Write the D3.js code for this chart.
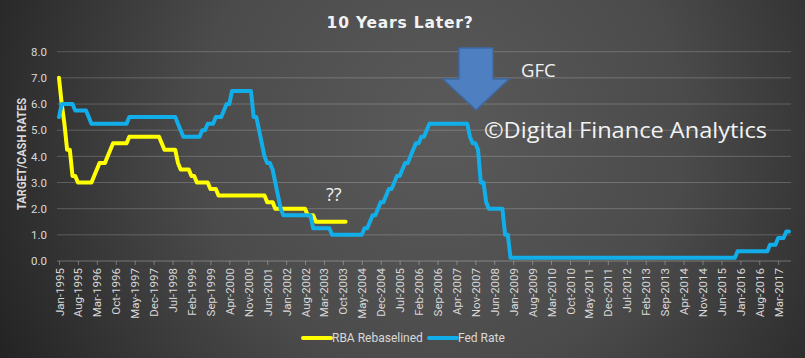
<!DOCTYPE html>
<html>
<head>
<meta charset="utf-8">
<script src="https://cdn.jsdelivr.net/npm/d3@7"></script>
<style>
html,body{margin:0;padding:0;background:#333;}
svg{display:block;}
</style>
</head>
<body>
<svg id="chart" width="805" height="358"></svg>
<script>
// ---------- DATA ----------
const chartTitle = "10 Years Later?";
const yAxisTitle = "TARGET/CASH RATES";
const seriesNames = ["RBA Rebaselined", "Fed Rate"];
const yTicks = [0, 1, 2, 3, 4, 5, 6, 7, 8];

// Monthly categories: Jan-1995 .. Jul-2017
const firstMonth = new Date(1995, 0, 1);
const lastMonth = new Date(2017, 6, 1);

// Category axis labels (every 7th month)
const tickLabels = ["Jan-1995","Aug-1995","Mar-1996","Oct-1996","May-1997","Dec-1997","Jul-1998",
  "Feb-1999","Sep-1999","Apr-2000","Nov-2000","Jun-2001","Jan-2002","Aug-2002","Mar-2003",
  "Oct-2003","May-2004","Dec-2004","Jul-2005","Feb-2006","Sep-2006","Apr-2007","Nov-2007",
  "Jun-2008","Jan-2009","Aug-2009","Mar-2010","Oct-2010","May-2011","Dec-2011","Jul-2012",
  "Feb-2013","Sep-2013","Apr-2014","Nov-2014","Jun-2015","Jan-2016","Aug-2016","Mar-2017"];

// Fed Rate (monthly, Jan-1995 .. Jul-2017)
const fedRate = [
  5.5,6,6,6,6,6,5.75,5.75,5.75,5.75,5.75,5.5,                 // 1995
  5.25,5.25,5.25,5.25,5.25,5.25,5.25,5.25,5.25,5.25,5.25,5.25, // 1996
  5.25,5.25,5.5,5.5,5.5,5.5,5.5,5.5,5.5,5.5,5.5,5.5,           // 1997
  5.5,5.5,5.5,5.5,5.5,5.5,5.5,5.5,5.25,5,4.75,4.75,            // 1998
  4.75,4.75,4.75,4.75,4.75,5,5,5.25,5.25,5.25,5.5,5.5,         // 1999
  5.5,5.75,6,6,6.5,6.5,6.5,6.5,6.5,6.5,6.5,6.5,                // 2000
  5.5,5.5,5,4.5,4,3.75,3.75,3.5,3,2.5,2,1.75,                  // 2001
  1.75,1.75,1.75,1.75,1.75,1.75,1.75,1.75,1.75,1.75,1.25,1.25, // 2002
  1.25,1.25,1.25,1.25,1.25,1,1,1,1,1,1,1,                      // 2003
  1,1,1,1,1,1.25,1.25,1.5,1.75,1.75,2,2.25,                    // 2004
  2.25,2.5,2.75,2.75,3,3.25,3.25,3.5,3.75,3.75,4,4.25,         // 2005
  4.5,4.5,4.75,4.75,5,5.25,5.25,5.25,5.25,5.25,5.25,5.25,      // 2006
  5.25,5.25,5.25,5.25,5.25,5.25,5.25,5.25,4.75,4.5,4.5,4.25,   // 2007
  3,3,2.25,2,2,2,2,2,2,1,1,0.125,                              // 2008
  0.125,0.125,0.125,0.125,0.125,0.125,0.125,0.125,0.125,0.125,0.125,0.125, // 2009
  0.125,0.125,0.125,0.125,0.125,0.125,0.125,0.125,0.125,0.125,0.125,0.125, // 2010
  0.125,0.125,0.125,0.125,0.125,0.125,0.125,0.125,0.125,0.125,0.125,0.125, // 2011
  0.125,0.125,0.125,0.125,0.125,0.125,0.125,0.125,0.125,0.125,0.125,0.125, // 2012
  0.125,0.125,0.125,0.125,0.125,0.125,0.125,0.125,0.125,0.125,0.125,0.125, // 2013
  0.125,0.125,0.125,0.125,0.125,0.125,0.125,0.125,0.125,0.125,0.125,0.125, // 2014
  0.125,0.125,0.125,0.125,0.125,0.125,0.125,0.125,0.125,0.125,0.125,0.375, // 2015
  0.375,0.375,0.375,0.375,0.375,0.375,0.375,0.375,0.375,0.375,0.375,0.625, // 2016
  0.625,0.625,0.875,0.875,0.875,1.125,1.125                    // 2017
];

// RBA cash rate, rebaselined (Sep-2008 .. Jul-2017 plotted from Jan-1995)
const rbaRebaselined = [
  7,6,5.25,4.25,
  4.25,3.25,3.25,3,3,3,3,3,3,3.25,3.5,3.75,
  3.75,3.75,4,4.25,4.5,4.5,4.5,4.5,4.5,4.5,4.75,4.75,
  4.75,4.75,4.75,4.75,4.75,4.75,4.75,4.75,4.75,4.75,4.5,4.25,
  4.25,4.25,4.25,4.25,3.75,3.5,3.5,3.5,3.5,3.25,3.25,3,
  3,3,3,3,2.75,2.75,2.75,2.5,2.5,2.5,2.5,2.5,
  2.5,2.5,2.5,2.5,2.5,2.5,2.5,2.5,2.5,2.5,2.5,2.5,
  2.5,2.25,2.25,2.25,2,2,2,2,2,2,2,2,
  2,2,2,2,1.75,1.75,1.75,1.5,1.5,1.5,1.5,1.5,
  1.5,1.5,1.5,1.5,1.5,1.5,1.5
];

// Annotations
const annoGFC = "GFC";
const annoCopyright = "©Digital Finance Analytics";
const annoQuestion = "??";

// ---------- CHART ----------
const W = 805, H = 358;
const svg = d3.select("#chart");
const defs = svg.append("defs");

const grad = defs.append("radialGradient").attr("id","bg")
  .attr("gradientUnits","userSpaceOnUse")
  .attr("cx", 440).attr("cy", 130).attr("r", 540);
grad.append("stop").attr("offset","0%").attr("stop-color","#5a5a5a");
grad.append("stop").attr("offset","45%").attr("stop-color","#4b4b4b");
grad.append("stop").attr("offset","100%").attr("stop-color","#1c1c1c");
svg.append("rect").attr("width",W).attr("height",H).attr("fill","url(#bg)");

const months = d3.timeMonth.range(firstMonth, d3.timeMonth.offset(lastMonth, 1));
const fmt = d3.timeFormat("%b-%Y");
const labelSet = new Set(tickLabels);
const tickIdx = months.map((m,i)=>i).filter(i => labelSet.has(fmt(months[i])));

const plot = {left: 57, right: 791, top: 51.7, bottom: 261};
const x = d3.scaleLinear().domain([0, months.length - 1]).range([59, 789]);
const y = d3.scaleLinear().domain([0, 8]).range([plot.bottom, plot.top]);

// gridlines
svg.append("g").selectAll("line").data(yTicks.filter(t=>t>0)).join("line")
  .attr("x1", plot.left).attr("x2", plot.right)
  .attr("y1", d=>y(d)).attr("y2", d=>y(d))
  .attr("stroke", "rgba(255,255,255,0.2)").attr("stroke-width", 1);

// y axis labels
const yAxis = d3.axisLeft(y).tickValues(yTicks).tickFormat(d3.format(".1f")).tickSize(0).tickPadding(0);
const gy = svg.append("g").attr("transform", `translate(47,0)`).call(yAxis);
gy.select(".domain").remove();
gy.selectAll("text").attr("fill","#d9d9d9").attr("font-family","Roboto, sans-serif").attr("font-size","11.5px");

// x axis
const xAxis = d3.axisBottom(x).tickValues(tickIdx).tickFormat(i => fmt(months[i])).tickSize(4).tickSizeOuter(0);
const gx = svg.append("g").attr("transform", `translate(0,${plot.bottom})`).call(xAxis);
gx.select(".domain").attr("d", `M${plot.left},0H${plot.right}`).attr("stroke","rgba(255,255,255,0.3)");
gx.selectAll(".tick line").attr("stroke","rgba(255,255,255,0.3)");
gx.selectAll(".tick text")
  .attr("transform","rotate(-90)")
  .attr("x", -7).attr("y", 0).attr("dy","0.35em")
  .attr("text-anchor","end")
  .attr("fill","#d9d9d9")
  .attr("font-family","Roboto, sans-serif").attr("font-size","11.5px");

// y axis title
svg.append("text")
  .attr("transform", `translate(26,154) rotate(-90)`)
  .attr("text-anchor","middle")
  .attr("fill","#d9d9d9").attr("font-weight","bold")
  .attr("font-family","Roboto, sans-serif").attr("font-size","12.5px")
  .attr("textLength", 112).attr("lengthAdjust","spacingAndGlyphs")
  .text(yAxisTitle);

// title
svg.append("text")
  .attr("x", 400).attr("y", 28).attr("text-anchor","middle")
  .attr("fill","#f2f2f2").attr("font-weight","bold")
  .attr("font-family","'DejaVu Sans', sans-serif").attr("font-size","15.5px")
  .attr("letter-spacing","0.8px")
  .text(chartTitle);

// lines
const line = d3.line().x((d,i)=>x(i)).y(d=>y(d)).curve(d3.curveLinear);
const colors = ["#ffff00", "#12aee9"];

svg.append("path").datum(rbaRebaselined).attr("d", line)
  .attr("fill","none").attr("stroke", colors[0]).attr("stroke-width", 4)
  .attr("stroke-linejoin","round").attr("stroke-linecap","round");
svg.append("path").datum(fedRate).attr("d", line)
  .attr("fill","none").attr("stroke", colors[1]).attr("stroke-width", 4)
  .attr("stroke-linejoin","round").attr("stroke-linecap","round");

// arrow annotation
const arrowPts = [[459,48],[493,48],[493,79],[509,79],[476,110],[443,79],[459,79]];
svg.append("polygon").attr("points", arrowPts.map(p=>p.join(",")).join(" "))
  .attr("fill","#4d7fc1").attr("stroke","#3d6aa6").attr("stroke-width",1.5);

svg.append("text").attr("x", 521).attr("y", 77)
  .attr("fill","#f2f2f2").attr("font-family","'Open Sans', sans-serif").attr("font-size","18.5px")
  .text(annoGFC);
svg.append("text").attr("x", 484).attr("y", 137.5)
  .attr("fill","#f2f2f2").attr("font-family","'Open Sans', sans-serif").attr("font-size","22px")
  .attr("textLength", 283).attr("lengthAdjust","spacingAndGlyphs")
  .text(annoCopyright);
svg.append("text").attr("x", 326).attr("y", 200.5)
  .attr("fill","#f2f2f2").attr("font-family","'Open Sans', sans-serif").attr("font-size","18px")
  .text(annoQuestion);

// legend
const legend = [{name: seriesNames[0], color: colors[0], x: 303}, {name: seriesNames[1], color: colors[1], x: 429}];
const lg = svg.append("g").selectAll("g").data(legend).join("g")
  .attr("transform", d => `translate(${d.x},338)`);
lg.append("line").attr("x1",0).attr("x2",28).attr("y1",0).attr("y2",0)
  .attr("stroke", d=>d.color).attr("stroke-width",4).attr("stroke-linecap","round");
lg.append("text").attr("x", 29).attr("y", 0).attr("dy","0.35em")
  .attr("fill","#d9d9d9").attr("font-family","Roboto, sans-serif").attr("font-size","12px")
  .text(d=>d.name);
</script>
</body>
</html>
